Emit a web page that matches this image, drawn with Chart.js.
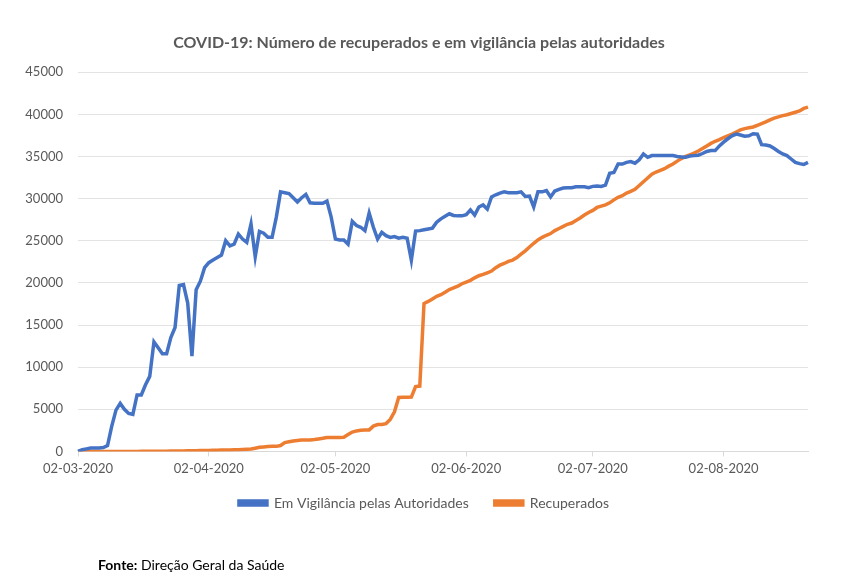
<!DOCTYPE html>
<html>
<head>
<meta charset="utf-8">
<script src="https://cdn.jsdelivr.net/npm/chart.js@4"></script>
<style>
  html, body { margin: 0; padding: 0; background: #fff; }
  #wrap { position: relative; width: 845px; height: 585px; }
  #fonte { position: absolute; left: 98px; top: 556px; font: 14px Lato, sans-serif; color: #000; }
</style>
</head>
<body>
<div id="wrap">
  <canvas id="chart" width="845" height="585"></canvas>
  <div id="fonte"><b>Fonte:</b> Direção Geral da Saúde</div>
</div>
<script>
// dias desde 02-03-2020 ate 22-08-2020
const startDate = [2020, 3, 2]
const tickLabels = ['02-03-2020', '02-04-2020', '02-05-2020', '02-06-2020', '02-07-2020', '02-08-2020']

const vigilancia = [
  0, 200, 300, 400, 400, 400, 450, 700, 3000, 4900,
  5700, 5000, 4500, 4400, 6700, 6700, 7900, 8900, 13000, 12300,
  11600, 11600, 13500, 14700, 19700, 19800, 17600, 11300, 19200, 20200,
  21800, 22400, 22700, 23000, 23300, 25000, 24400, 24600, 25800, 25200,
  24800, 27000, 23100, 26100, 25900, 25400, 25400, 27800, 30800, 30700,
  30600, 30100, 29600, 30100, 30500, 29500, 29450, 29450, 29450, 29700,
  27800, 25200, 25100, 25100, 24600, 27300, 26800, 26600, 26200, 28300,
  26600, 25200, 26000, 25600, 25400, 25500, 25300, 25400, 25300, 22700,
  26150, 26200, 26300, 26400, 26500, 27200, 27600, 27900, 28200, 28000,
  27950, 27950, 28100, 28650, 28050, 29000, 29250, 28750, 30200, 30450,
  30650, 30800, 30700, 30700, 30700, 30800, 30250, 30300, 29000, 30800,
  30800, 30950, 30200, 30900, 31100, 31250, 31300, 31300, 31400, 31400,
  31400, 31300, 31450, 31500, 31450, 31600, 33000, 33100, 34100, 34100,
  34300, 34400, 34200, 34600, 35300, 34900, 35100, 35100, 35100, 35100,
  35100, 35100, 35000, 34950, 34900, 35050, 35100, 35150, 35350, 35600,
  35700, 35700, 36250, 36700, 37100, 37450, 37650, 37550, 37400, 37450,
  37700, 37650, 36400, 36350, 36250, 35950, 35600, 35300, 35100, 34700,
  34300, 34150, 34050, 34300
]

const recuperados = [
  0, 0, 0, 0, 0, 0, 0, 0, 0, 0,
  0, 0, 0, 0, 2, 3, 3, 3, 5, 5,
  14, 22, 43, 43, 43, 43, 70, 75, 90, 95,
  100, 120, 140, 150, 160, 170, 180, 190, 200, 230,
  250, 280, 380, 480, 530, 580, 600, 600, 700, 1050,
  1150, 1230, 1300, 1350, 1350, 1350, 1400, 1470, 1550, 1650,
  1650, 1650, 1660, 1670, 2000, 2300, 2430, 2500, 2530, 2550,
  3000, 3180, 3200, 3300, 3800, 4700, 6400, 6430, 6430, 6450,
  7700, 7750, 17550, 17800, 18100, 18400, 18600, 18900, 19200, 19400,
  19600, 19900, 20100, 20300, 20600, 20850, 21000, 21200, 21400, 21800,
  22100, 22300, 22550, 22700, 23000, 23400, 23800, 24250, 24700, 25100,
  25400, 25650, 25850, 26200, 26450, 26700, 26950, 27100, 27400, 27700,
  28050, 28350, 28600, 28950, 29100, 29250, 29500, 29850, 30150, 30350,
  30650, 30850, 31100, 31550, 32000, 32450, 32900, 33150, 33350, 33550,
  33850, 34100, 34450, 34750, 35000, 35200, 35400, 35650, 35950, 36250,
  36550, 36800, 37000, 37250, 37450, 37650, 37900, 38150, 38300, 38400,
  38500, 38700, 38900, 39100, 39350, 39550, 39700, 39850, 39950, 40100,
  40250, 40400, 40700, 40850
]

const pad = n => String(n).padStart(2, '0')
const labels = vigilancia.map((v, i) => {
  const d = new Date(startDate[0], startDate[1] - 1, startDate[2] + i)
  return pad(d.getDate()) + '-' + pad(d.getMonth() + 1) + '-' + d.getFullYear()
})

const fontFamily = 'Lato, "Open Sans", sans-serif'
const grey = '#595959'

// titulo e legenda centrados na pagina, legenda um pouco mais perto do eixo
const shiftBlocks = {
  id: 'shiftBlocks',
  afterLayout(chart) {
    const lg = chart.legend
    if (lg) { lg.left += 10; lg.right += 10; lg.top -= 12; lg.bottom -= 12 }
    const tb = chart.titleBlock
    if (tb) { tb.left += 5; tb.right += 5 }
  }
}

new Chart(document.getElementById('chart'), {
  type: 'line',
  data: {
    labels: labels,
    datasets: [{
      label: 'Em Vigilância pelas Autoridades',
      data: vigilancia,
      borderColor: '#4472C4',
      backgroundColor: '#4472C4',
      borderWidth: 3.5,
      pointRadius: 0,
      tension: 0
    }, {
      label: 'Recuperados',
      data: recuperados,
      borderColor: '#ED7D31',
      backgroundColor: '#ED7D31',
      borderWidth: 3.5,
      pointRadius: 0,
      tension: 0
    }]
  },
  plugins: [shiftBlocks],
  options: {
    responsive: false,
    animation: false,
    layout: { padding: { left: 20, right: 37, top: 0, bottom: 53 } },
    scales: {
      x: {
        offset: false,
        grid: {
          display: true,
          drawOnChartArea: false,
          drawTicks: true,
          tickLength: 5,
          color: '#d9d9d9'
        },
        border: { display: true, color: '#d9d9d9' },
        ticks: {
          autoSkip: false,
          maxRotation: 0,
          color: grey,
          padding: 5,
          font: { family: fontFamily, size: 13 },
          callback: function (value) {
            const lab = this.getLabelForValue(value)
            return tickLabels.includes(lab) ? lab : null
          }
        }
      },
      y: {
        min: 0,
        max: 45000,
        grid: { color: '#e3e3e3', drawTicks: false },
        border: { display: false },
        ticks: {
          stepSize: 5000,
          color: grey,
          padding: 15,
          font: { family: fontFamily, size: 13 },
          callback: v => String(v)
        },
        afterFit: scale => { scale.width = 58 }
      }
    },
    plugins: {
      title: {
        display: true,
        text: 'COVID-19: Número de recuperados e em vigilância pelas autoridades',
        color: grey,
        font: { family: fontFamily, size: 16, weight: 'bold' },
        padding: { top: 33, bottom: 20 }
      },
      legend: {
        position: 'bottom',
        labels: {
          color: grey,
          boxWidth: 28,
          boxHeight: 4,
          padding: 26,
          font: { family: fontFamily, size: 14 }
        }
      },
      tooltip: { enabled: false }
    }
  }
})
</script>
</body>
</html>
